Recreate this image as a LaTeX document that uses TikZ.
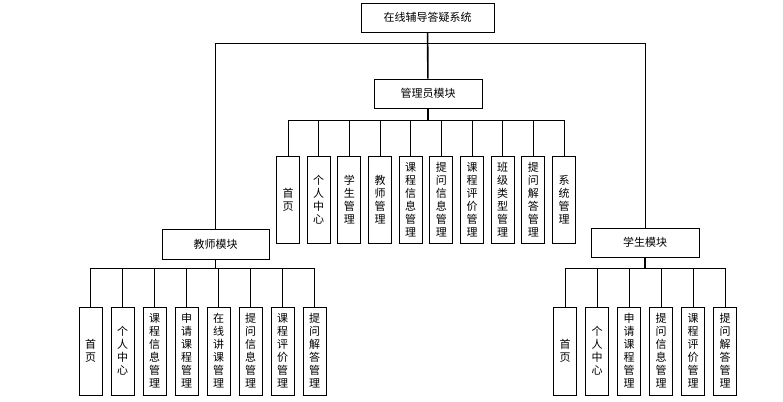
\documentclass[tikz,border=0pt]{standalone}
\usepackage{fontspec}
\newfontfamily\cjk{Noto Sans CJK SC}
\usetikzlibrary{positioning}
\begin{document}
\begin{tikzpicture}[x=1pt,y=-1pt,font=\cjk\fontsize{11}{13}\selectfont]
\tikzstyle{modbox} = [draw,line width=0.9pt,minimum width=108pt,minimum height=29pt,inner sep=0pt]
\tikzstyle{leaf} = [draw,line width=0.9pt,minimum width=23pt,minimum height=88pt,inner sep=0pt,align=center,node distance=32pt]
\tikzstyle{link} = [line width=0.9pt]
\tikzstyle{trunk} = [line width=1.6pt]

\useasboundingbox (0,0) rectangle (783,401);

\node[modbox,minimum width=133pt] (sys) at (427.5,17.5) {在线辅导答疑系统};
\node[modbox] (admin) at (428,93.5) {管理员模块};
\node[modbox,minimum width=107pt,minimum height=30pt] (teacher) at (215.5,244) {教师模块};
\node[modbox] (student) at (645,242.5) {学生模块};

\coordinate (top) at (428,43);
\coordinate (abus) at (428,120);
\coordinate (tbus) at (215.5,268);
\coordinate (sbus) at (645,268);

% admin
\node[leaf,minimum height=87pt] (a1) at (288,199.5) {首\\页};
\node[leaf,minimum height=87pt,node distance=30.67pt,right of=a1] (a2) {个\\人\\中\\心};
\node[leaf,minimum height=87pt,node distance=30.67pt,right of=a2] (a3) {学\\生\\管\\理};
\node[leaf,minimum height=87pt,node distance=30.67pt,right of=a3] (a4) {教\\师\\管\\理};
\node[leaf,minimum height=87pt,node distance=30.67pt,right of=a4] (a5) {课\\程\\信\\息\\管\\理};
\node[leaf,minimum height=87pt,node distance=30.67pt,right of=a5] (a6) {提\\问\\信\\息\\管\\理};
\node[leaf,minimum height=87pt,node distance=30.67pt,right of=a6] (a7) {课\\程\\评\\价\\管\\理};
\node[leaf,minimum height=87pt,node distance=30.67pt,right of=a7] (a8) {班\\级\\类\\型\\管\\理};
\node[leaf,minimum height=87pt,node distance=30.67pt,right of=a8] (a9) {提\\问\\解\\答\\管\\理};
\node[leaf,minimum height=87pt,node distance=30.67pt,right of=a9] (a10) {系\\统\\管\\理};

% teacher
\node[leaf] (t1) at (90.5,351) {首\\页};
\node[leaf,right of=t1] (t2) {个\\人\\中\\心};
\node[leaf,right of=t2] (t3) {课\\程\\信\\息\\管\\理};
\node[leaf,right of=t3] (t4) {申\\请\\课\\程\\管\\理};
\node[leaf,right of=t4] (t5) {在\\线\\讲\\课\\管\\理};
\node[leaf,right of=t5] (t6) {提\\问\\信\\息\\管\\理};
\node[leaf,right of=t6] (t7) {课\\程\\评\\价\\管\\理};
\node[leaf,right of=t7] (t8) {提\\问\\解\\答\\管\\理};

% student
\node[leaf] (s1) at (565,351) {首\\页};
\node[leaf,right of=s1] (s2) {个\\人\\中\\心};
\node[leaf,right of=s2] (s3) {申\\请\\课\\程\\管\\理};
\node[leaf,right of=s3] (s4) {提\\问\\信\\息\\管\\理};
\node[leaf,right of=s4] (s5) {课\\程\\评\\价\\管\\理};
\node[leaf,right of=s5] (s6) {提\\问\\解\\答\\管\\理};

\draw[trunk] (sys) -- (admin);
\draw[link] (top) -| (teacher);
\draw[link] (top) -| (student);

\draw[trunk] (admin) -- (abus);
\draw[link] (abus) -| (a1);
\draw[link] (abus) -| (a2);
\draw[link] (abus) -| (a3);
\draw[link] (abus) -| (a4);
\draw[link] (abus) -| (a5);
\draw[link] (abus) -| (a6);
\draw[link] (abus) -| (a7);
\draw[link] (abus) -| (a8);
\draw[link] (abus) -| (a9);
\draw[link] (abus) -| (a10);

\draw[trunk] (teacher) -- (tbus);
\draw[link] (tbus) -| (t1);
\draw[link] (tbus) -| (t2);
\draw[link] (tbus) -| (t3);
\draw[link] (tbus) -| (t4);
\draw[link] (tbus) -| (t5);
\draw[link] (tbus) -| (t6);
\draw[link] (tbus) -| (t7);
\draw[link] (tbus) -| (t8);

\draw[trunk] (student) -- (sbus);
\draw[link] (sbus) -| (s1);
\draw[link] (sbus) -| (s2);
\draw[link] (sbus) -| (s3);
\draw[link] (sbus) -| (s4);
\draw[link] (sbus) -| (s5);
\draw[link] (sbus) -| (s6);
\end{tikzpicture}
\end{document}
